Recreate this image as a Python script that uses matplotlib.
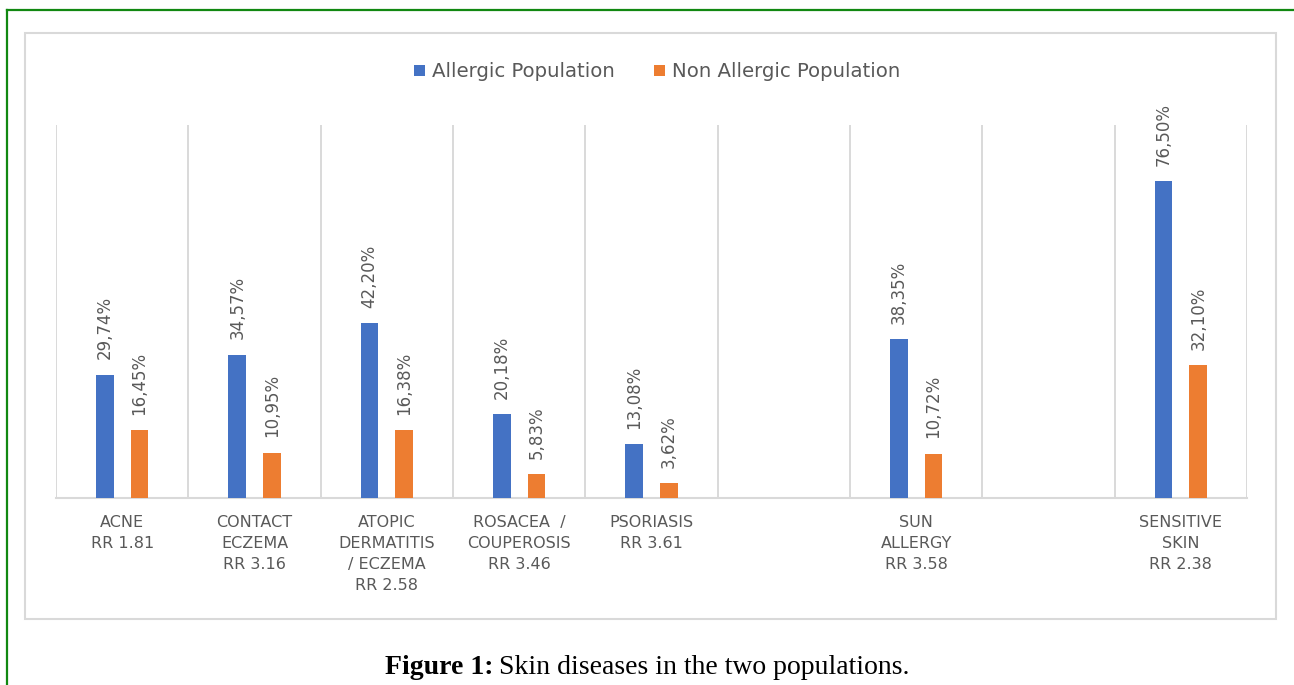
import numpy as np
import matplotlib
matplotlib.use("Agg")
import matplotlib.pyplot as plt
from matplotlib.patches import Rectangle
from matplotlib.lines import Line2D

# skin diseases, two of the slots are left blank on the axis
categories = ["ACNE\nRR 1.81", "CONTACT\nECZEMA\nRR 3.16", "ATOPIC\nDERMATITIS\n/ ECZEMA\nRR 2.58",
              "ROSACEA  /\nCOUPEROSIS\nRR 3.46", "PSORIASIS\nRR 3.61", "",
              "SUN\nALLERGY\nRR 3.58", "", "SENSITIVE\nSKIN\nRR 2.38"]
allergic = [29.74, 34.57, 42.20, 20.18, 13.08, np.nan, 38.35, np.nan, 76.50]
non_allergic = [16.45, 10.95, 16.38, 5.83, 3.62, np.nan, 10.72, np.nan, 32.10]
series_names = ["Allergic Population", "Non Allergic Population"]

blue = "#4472C4"
orange = "#ED7D31"
grey_txt = "#595959"
grid_col = "#d9d9d9"

fig = plt.figure(figsize=(12.94, 6.85), dpi=100)
ax = fig.add_axes([0.0433, 0.2730, 0.9204, 0.5445])

x = np.arange(len(categories))
width = 0.134
off = 0.131

def fmt(v):
    return f"{v:.2f}%".replace(".", ",")

for vals, sign, col, name in [(allergic, -1, blue, series_names[0]),
                              (non_allergic, 1, orange, series_names[1])]:
    vals = np.array(vals, dtype=float)
    ok = ~np.isnan(vals)
    bars = ax.bar(x[ok] + sign * off, vals[ok], width, color=col, label=name, zorder=3)
    ax.bar_label(bars, labels=[fmt(v) for v in vals[ok]], rotation=90, padding=11,
                 color=grey_txt, fontsize=12)

ax.set_xlim(-0.5, len(categories) - 0.5)
ax.set_ylim(0, 90)

# vertical separators between categories
for b in np.arange(-0.5, len(categories), 1.0):
    ax.axvline(b, color=grid_col, lw=1.4, zorder=1)

for s in ["top", "left", "right"]:
    ax.spines[s].set_visible(False)
ax.spines["bottom"].set_color(grid_col)
ax.spines["bottom"].set_linewidth(1.5)
ax.set_yticks([])
ax.set_xticks(x)
ax.set_xticklabels(categories, color=grey_txt, fontsize=11.5, linespacing=1.5)
ax.tick_params(axis="x", length=0, pad=12)

leg = fig.legend(loc="center", bbox_to_anchor=(0.508, 0.895), ncol=2, frameon=False,
                 fontsize=14.2, handlelength=0.55, handleheight=0.55, handletextpad=0.35,
                 columnspacing=2.0)
for t in leg.get_texts():
    t.set_color(grey_txt)

# chart frame
fig.patches.append(Rectangle((0.0193, 0.0964), 0.9668, 0.8555, transform=fig.transFigure,
                             fill=False, edgecolor=grid_col, lw=1.5))
# green page border
fig.lines.append(Line2D([0.0054, 0.0054], [0, 0.9854], transform=fig.transFigure,
                        color="#118811", lw=1.6))
fig.lines.append(Line2D([0.0054, 1.0], [0.9854, 0.9854], transform=fig.transFigure,
                        color="#118811", lw=1.6))

# caption
fig.text(0.381, 0.016, "Figure 1:", fontfamily="Liberation Serif", fontweight="bold",
         fontsize=20, ha="right", va="baseline")
fig.text(0.386, 0.016, "Skin diseases in the two populations.", fontfamily="Liberation Serif",
         fontsize=20, ha="left", va="baseline")

fig.savefig("out.png", dpi=100)
